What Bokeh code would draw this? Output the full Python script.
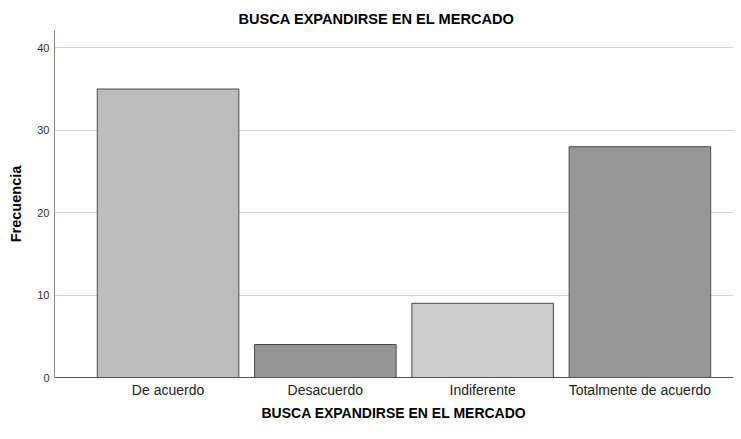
from bokeh.plotting import figure
from bokeh.models import FixedTicker, Range1d, ColumnDataSource, Title
from bokeh.embed import file_html
from bokeh.resources import INLINE

categories = ["De acuerdo", "Desacuerdo", "Indiferente", "Totalmente de acuerdo"]
frequencies = [35, 4, 9, 28]
bar_colors = ["#bdbdbd", "#959595", "#cccccc", "#969696"]
y_ticks = [0, 10, 20, 30, 40]

positions = list(range(len(categories)))
src = ColumnDataSource(dict(x=positions, top=frequencies, color=bar_colors, cat=categories))

p = figure(width=733, height=423, output_backend="svg", toolbar_location=None,
           x_range=Range1d(-0.722, 3.595), y_range=Range1d(0, 42.1),
           min_border_left=54, min_border_right=0, min_border_top=30, min_border_bottom=46)
p.outline_line_color = None
p.background_fill_color = "white"

p.vbar(x="x", top="top", width=0.9, bottom=0, fill_color="color", line_color="#4a4a4a",
       line_width=1, source=src)

font = "Liberation Sans"
t = Title(text="BUSCA EXPANDIRSE EN EL MERCADO", text_font=font, text_font_size="14.6px",
          text_font_style="bold", text_color="#000000", align="left", offset=184, standoff=7)
p.title = t

p.xaxis.ticker = FixedTicker(ticks=positions)
p.xaxis.major_label_overrides = {i: c for i, c in enumerate(categories)}
p.xaxis.major_label_text_font = font
p.xaxis.major_label_text_font_size = "14px"
p.xaxis.major_label_text_color = "#222222"
p.xaxis.major_label_standoff = 4
p.xaxis.major_tick_out = 0
p.xaxis.major_tick_in = 0
p.xaxis.major_tick_line_color = None
p.xaxis.minor_tick_line_color = None
p.xaxis.axis_line_color = "#555555"
p.xaxis.axis_label = "BUSCA EXPANDIRSE EN EL MERCADO"
p.xaxis.axis_label_text_font = font
p.xaxis.axis_label_text_font_size = "14px"
p.xaxis.axis_label_text_font_style = "bold"
p.xaxis.axis_label_text_color = "#000000"
p.xaxis.axis_label_standoff = 4

p.yaxis.ticker = FixedTicker(ticks=y_ticks)
p.yaxis.major_label_text_font = font
p.yaxis.major_label_text_font_size = "11px"
p.yaxis.major_label_text_color = "#333333"
p.yaxis.major_label_standoff = 5
p.yaxis.major_tick_out = 0
p.yaxis.major_tick_in = 0
p.yaxis.major_tick_line_color = None
p.yaxis.minor_tick_line_color = None
p.yaxis.axis_line_color = "#888888"
p.yaxis.axis_label = "Frecuencia"
p.yaxis.axis_label_text_font = font
p.yaxis.axis_label_text_font_size = "14.5px"
p.yaxis.axis_label_text_font_style = "bold"
p.yaxis.axis_label_text_color = "#000000"
p.yaxis.axis_label_standoff = 10

p.xgrid.grid_line_color = None
p.ygrid.grid_line_color = "#d4d4d4"
p.ygrid.ticker = FixedTicker(ticks=y_ticks)

open("out.html", "w").write(file_html(p, INLINE))
